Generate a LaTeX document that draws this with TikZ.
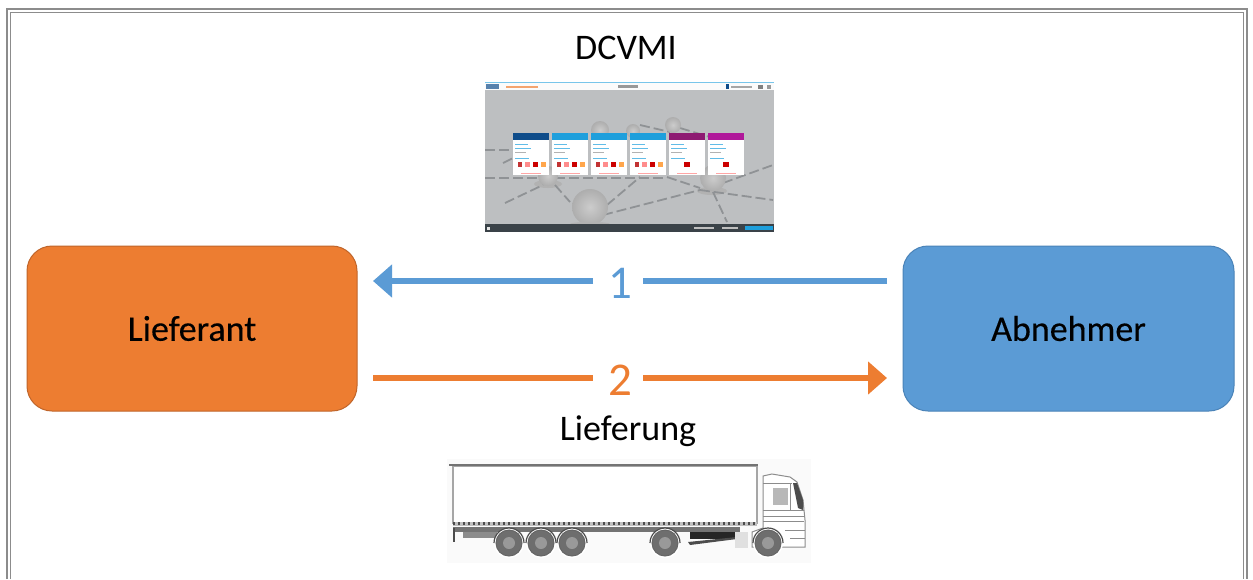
\documentclass[tikz,border=0pt]{standalone}
\usepackage{fontspec}
\setmainfont{Carlito}
\newfontfamily\partyfont[FakeBold=0.25]{Carlito}
\usetikzlibrary{arrows.meta}
\definecolor{orangeF}{HTML}{ED7D31}
\definecolor{orangeD}{HTML}{C0652A}
\definecolor{blueF}{HTML}{5B9BD5}
\definecolor{blueD}{HTML}{4A83B8}
\definecolor{frameC}{HTML}{8C8C8C}
\definecolor{shotG}{HTML}{BDBFC1}
\definecolor{shotBar}{HTML}{3A4248}
\definecolor{tileBlue}{HTML}{1E9FDC}
\definecolor{tileNavy}{HTML}{0F4C8A}
\definecolor{tileMag}{HTML}{8E1A72}
\definecolor{tilePink}{HTML}{B0189A}
\definecolor{netG}{HTML}{8F9295}
\definecolor{truckG}{HTML}{6E6E6E}
\tikzset{x=1pt,y=-1pt,
  party/.style={rounded corners=25pt,line width=1pt,inner sep=0pt,font=\partyfont\fontsize{36}{42}\selectfont,text=black},
  flow/.style={line width=6.5pt,-{Triangle[length=19pt,width=32pt]}},
  plain/.style={line width=6.5pt},
  num/.style={font=\fontsize{47}{52}\selectfont,inner sep=0pt},
  captext/.style={font=\fontsize{36}{42}\selectfont,text=black,inner sep=0pt},
  wheel/.style={circle,fill=truckG,draw=black!60,line width=1pt,minimum size=26pt,inner sep=0pt},
  net/.style={netG,line width=1.8pt,dash pattern=on 10pt off 4pt},
  ball/.style={shading=radial,inner color=black!20,outer color=black!32},
}
\begin{document}
\begin{tikzpicture}
\useasboundingbox (0,0) rectangle (1253,579);
\fill[white] (0,0) rectangle (1253,579);
% frame
\draw[frameC,line width=1.2pt] (7,579) -- (7,9) -- (1247,9) -- (1247,579);
\draw[frameC,line width=1.2pt] (10.5,579) -- (10.5,12.5) -- (1243.5,12.5) -- (1243.5,579);
% party boxes
\node[party,fill=orangeF,draw=orangeD,minimum width=330pt,minimum height=165pt] (lief) at (192,328.5) {Lieferant};
\node[party,fill=blueF,draw=blueD,minimum width=331pt,minimum height=165pt] (abn) at (1068.5,328.5) {Abnehmer};
% connector anchors
\coordinate (a1s) at (887,281);
\coordinate (a1e) at (373,281);
\coordinate (a2s) at (373,378);
\coordinate (a2e) at (887,378);
\node[num,text=blueF] (n1) at (620,283) {1};
\node[num,text=orangeF] (n2) at (620,380) {2};
\draw[plain,blueF] (a1s) -- (643,281);
\draw[flow,blueF] (593,281) -- (a1e);
\draw[plain,orangeF] (a2s) -- (593,378);
\draw[flow,orangeF] (643,378) -- (a2e);
\node[captext] (dc) at (626,48) {DCVMI};
\node[captext] (lf) at (628,431) {Lieferung};
% screenshot
\fill[shotG] (485,82) rectangle (774,232);
\fill[white!94!shotG] (485,82) rectangle (774,90);
\fill[tileBlue!60] (485,81.5) rectangle (774,83);
\fill[tileNavy!70] (486,84) rectangle (499,89);
\fill[orangeF!70] (506,85.5) rectangle (538,87.5);
\fill[black!40] (618,85) rectangle (638,88);
\fill[tileNavy] (726,84) rectangle (729,89);
\fill[black!35] (731,85.5) rectangle (752,87.5);
\fill[black!50] (758,84.5) rectangle (763,88.5);
\fill[black!40] (767,84.5) rectangle (771,88.5);
\fill[black!30] (548,184) ellipse (14pt and 4pt);
\fill[black!30] (712,191) ellipse (15pt and 4pt);
\draw[net] (603,215) -- (700,190);
\draw[net] (700,190) -- (773,200);
\draw[net] (713,192) -- (727,222);
\draw[net] (607,205) -- (640,177);
\draw[net] (505,203) -- (543,185);
\draw[net] (555,185) -- (570,202);
\draw[net] (485,178) -- (667,178);
\draw[net] (667,177) -- (700,188);
\draw[net] (723,183) -- (773,165);
\draw[net] (503,163) -- (513,158);
\draw[net] (485,150) -- (513,150);
\draw[net] (640,125) -- (670,132);
\draw[net] (680,128) -- (713,138);
\shade[ball] (590,207) circle (18pt);
\fill[black!30] (590,224) ellipse (20pt and 2pt);
\shade[ball] (713,178) circle (13pt);
\shade[ball] (548,176) circle (10pt);
\shade[ball] (600,130) circle (9pt);
\shade[ball] (673,125) circle (8pt);
\shade[ball] (633,131) circle (7pt);
\fill[shotBar] (485,224) rectangle (774,232);
\fill[black!10] (487,226.5) rectangle (490,229.5);
\fill[black!25] (694,227) rectangle (714,229);
\fill[black!25] (722,227) rectangle (738,229);
\fill[tileBlue] (745,226) rectangle (773,230);
\foreach \tx/\tc/\kind in {513/tileNavy/1,552/tileBlue/1,591/tileBlue/1,630/tileBlue/1,669/tileMag/2,708/tilePink/2}{
  \fill[white] (\tx,133) rectangle ++(36,42);
  \fill[\tc] (\tx,133) rectangle ++(36,7);
  \fill[tileBlue!70] (\tx+2,143.5) rectangle ++(13,1.2);
  \fill[tileBlue!70] (\tx+2,147.5) rectangle ++(16,1.2);
  \fill[black!30] (\tx+2,151.5) rectangle ++(11,1);
  \fill[tileBlue!70] (\tx+2,158) rectangle ++(14,1.2);
  \fill[red!35] (\tx+8,172.5) rectangle ++(20,1);
  \ifnum\kind=1
    \fill[red!70!black!80] (\tx+5,162) rectangle ++(4,5);
    \fill[red!45] (\tx+12,162) rectangle ++(5,5);
    \fill[red!80!black] (\tx+20,162) rectangle ++(5,5);
    \fill[orange!70] (\tx+28,162) rectangle ++(5,5);
  \else
    \fill[red!80!black] (\tx+15,162) rectangle ++(6,5);
  \fi
}
% truck
\fill[black!2] (447,459) rectangle (811,563);
\draw[black!35,line width=1.2pt,fill=white] (453,466) rectangle (757,523);
\draw[black!55,line width=1.5pt] (449,465) -- (758,465);
\fill[black!25] (453,522) rectangle (757,526);
\draw[black!70,line width=2.5pt,dash pattern=on 2pt off 3pt] (453,523.5) -- (756,523.5);
\fill[black!55] (453,527) rectangle (740,532);
\fill[black!45] (463,532) rectangle (497,538);
\draw[black!70,line width=1.5pt] (454,528) -- (454,542);
\fill[black!85] (690,532) rectangle (737,539);
\fill[black!70] (688,542) -- (737,537) -- (737,539) -- (690,545) -- cycle;
\fill[black!12] (735,532) rectangle (748,548);
\draw[black!45,line width=1pt,fill=white] (763,528) -- (763,476) -- (772,474) -- (790,477) -- (797,482) -- (803,500) -- (805,520) -- (805,547) -- (752,547) -- (752,532) -- (763,528) -- cycle;
\fill[black!28] (773,488) rectangle (788,505);
\draw[black!45,line width=.6pt] (763,483) -- (792,483) (790,484) -- (790,510) (763,510) -- (804,510) (763,516) -- (804,516) (763,521) -- (804,521) (785,530) -- (805,530) (790,538) -- (805,538);
\fill[black!70] (793,483) -- (797,483) -- (803,500) -- (803,510) -- (798,508) -- cycle;
\foreach \wx in {509,541,572,665,768}{
  \fill[white] (\wx,543) circle (15pt);
  \draw[black!70,line width=1.2pt] (\wx-15,543) arc[start angle=180,end angle=0,radius=15pt];
  \node[wheel] at (\wx,543) {};
  \fill[black!40] (\wx,543) circle (6pt);
}
\end{tikzpicture}
\end{document}
